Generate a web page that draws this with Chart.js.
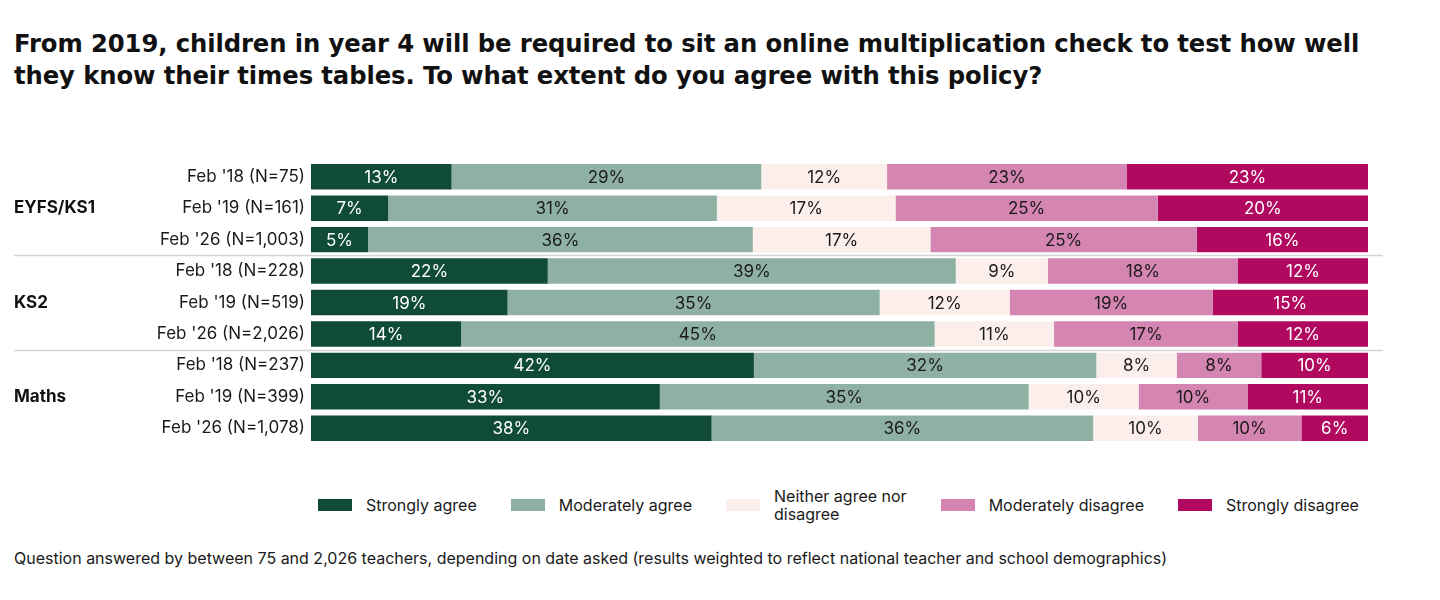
<!DOCTYPE html>
<html>
<head>
<meta charset="utf-8">
<script src="https://cdn.jsdelivr.net/npm/chart.js@4"></script>
<style>
  body { margin: 0; width: 1440px; height: 600px; background: #fff; font-family: Inter, "Noto Sans", sans-serif; color: #1a1a1a; position: relative; overflow: hidden; }
  #title { position: absolute; left: 14px; top: 28px; font-family: "DejaVu Sans", sans-serif; font-size: 24.3px; font-weight: 700; line-height: 32px; letter-spacing: -0.1px; white-space: nowrap; color: #111; }
  #chartBox { position: absolute; left: 0; top: 150px; width: 1440px; height: 300px; }
  #legend { position: absolute; left: 318px; top: 482px; height: 46px; display: flex; align-items: center; font-size: 16px; }
  .item { display: flex; align-items: center; margin-right: 34px; }
  .swatch { width: 34px; height: 12px; margin-right: 14px; flex: none; }
  .item span { line-height: 18px; }
  #note { position: absolute; left: 14px; top: 548px; font-size: 16px; line-height: 20px; white-space: nowrap; }
</style>
</head>
<body>
<div id="title">From 2019, children in year 4 will be required to sit an online multiplication check to test how well<br>they know their times tables. To what extent do you agree with this policy?</div>
<div id="chartBox"><canvas id="chart"></canvas></div>
<div id="legend"></div>
<div id="note">Question answered by between 75 and 2,026 teachers, depending on date asked (results weighted to reflect national teacher and school demographics)</div>
<script>
// rows, top to bottom
const categories = [
  "Feb '18 (N=75)", "Feb '19 (N=161)", "Feb '26 (N=1,003)",
  "Feb '18 (N=228)", "Feb '19 (N=519)", "Feb '26 (N=2,026)",
  "Feb '18 (N=237)", "Feb '19 (N=399)", "Feb '26 (N=1,078)"
];
const groupNames = ['EYFS/KS1', 'KS2', 'Maths'];
const groupSizes = [3, 3, 3];

const seriesNames = ['Strongly agree', 'Moderately agree', 'Neither agree nor disagree', 'Moderately disagree', 'Strongly disagree'];
const legendLabels = [['Strongly agree'], ['Moderately agree'], ['Neither agree nor', 'disagree'], ['Moderately disagree'], ['Strongly disagree']];

// percentages (bar lengths, labels are these rounded)
const stronglyAgree    = [13.3,  7.3,  5.4, 22.4, 18.6, 14.2, 41.9, 33.0, 37.9];
const moderatelyAgree  = [29.3, 31.1, 36.4, 38.6, 35.2, 44.8, 32.4, 34.9, 36.1];
const neither          = [11.9, 16.9, 16.8,  8.7, 12.3, 11.3,  7.6, 10.4,  9.9];
const moderatelyDisagr = [22.7, 24.8, 25.2, 18.0, 19.2, 17.4,  8.0, 10.3,  9.8];
const stronglyDisagree = [22.8, 19.9, 16.2, 12.3, 14.7, 12.3, 10.1, 11.4,  6.3];

const colors = ['#0f4b36', '#8fb1a4', '#fcefeb', '#d585b1', '#b0095f'];
const labelColors = ['#ffffff', '#1a1a1a', '#1a1a1a', '#1a1a1a', '#ffffff'];

const allSeries = [stronglyAgree, moderatelyAgree, neither, moderatelyDisagr, stronglyDisagree];

// html legend
const legendEl = document.getElementById('legend');
legendLabels.forEach((lines, i) => {
  const item = document.createElement('div');
  item.className = 'item';
  item.innerHTML = `<div class="swatch" style="background:${colors[i]}"></div><span>${lines.join('<br>')}</span>`;
  legendEl.appendChild(item);
});

// value labels in the middle of each segment
const barLabels = {
  id: 'barLabels',
  afterDatasetsDraw(chart) {
    const ctx = chart.ctx;
    ctx.save();
    ctx.font = '17px Inter, "Noto Sans", sans-serif';
    ctx.textAlign = 'center';
    ctx.textBaseline = 'middle';
    chart.data.datasets.forEach((ds, i) => {
      const meta = chart.getDatasetMeta(i);
      meta.data.forEach((bar, j) => {
        ctx.fillStyle = labelColors[i];
        ctx.fillText(Math.round(ds.data[j]) + '%', (bar.x + bar.base) / 2, bar.y + 1);
      });
    });
    ctx.restore();
  }
};

// group names and separator lines
const groups = {
  id: 'groups',
  afterDraw(chart) {
    const ctx = chart.ctx;
    const y = chart.scales.y;
    ctx.save();
    let start = 0;
    groupSizes.forEach((n, g) => {
      const mid = (y.getPixelForValue(start) + y.getPixelForValue(start + n - 1)) / 2;
      ctx.font = 'bold 17px Inter, "Noto Sans", sans-serif';
      ctx.fillStyle = '#111';
      ctx.textAlign = 'left';
      ctx.textBaseline = 'middle';
      ctx.fillText(groupNames[g], 14, mid);
      if (g > 0) {
        const ly = Math.round((y.getPixelForValue(start - 1) + y.getPixelForValue(start)) / 2) + 0.5;
        ctx.strokeStyle = '#d4d4d4';
        ctx.lineWidth = 1.5;
        ctx.beginPath();
        ctx.moveTo(14, ly);
        ctx.lineTo(1383, ly);
        ctx.stroke();
      }
      start += n;
    });
    ctx.restore();
  }
};

new Chart(document.getElementById('chart'), {
  type: 'bar',
  data: {
    labels: categories,
    datasets: allSeries.map((d, i) => ({
      label: seriesNames[i],
      data: d,
      backgroundColor: colors[i],
      borderWidth: 0,
      barPercentage: 0.81,
      categoryPercentage: 1
    }))
  },
  options: {
    indexAxis: 'y',
    responsive: true,
    maintainAspectRatio: false,
    animation: false,
    layout: { padding: { left: 0, right: 72, top: 11, bottom: 6 } },
    plugins: { legend: { display: false }, tooltip: { enabled: false } },
    scales: {
      x: { stacked: true, min: 0, max: 100, display: false },
      y: {
        stacked: true,
        grid: { display: false, drawTicks: false },
        border: { display: false },
        ticks: { color: '#1a1a1a', padding: 6, font: { family: 'Inter, "Noto Sans", sans-serif', size: 17 } },
        afterFit(scale) {
          scale.width = 311;
          // don't let the label overhang shrink the plot area
          scale.paddingTop = 0;
          scale.paddingBottom = 0;
        }
      }
    }
  },
  plugins: [barLabels, groups]
});
</script>
</body>
</html>
